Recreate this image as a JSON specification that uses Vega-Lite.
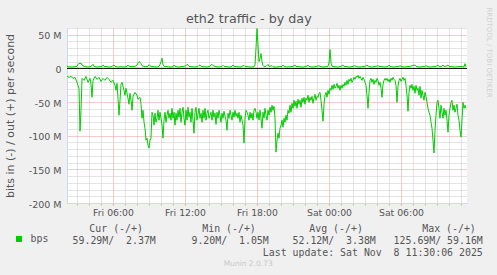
{
"$schema": "https://vega.github.io/schema/vega-lite/v6.json",
"autosize": "none",
"width": 400,
"height": 175,
"padding": {"left": 67, "top": 28, "right": 30, "bottom": 72},
"background": "#f0f0f0",
"config": {"view": {"fill": "white", "stroke": null}, "font": "DejaVu Sans"},
"title": {"text": "eth2 traffic - by day", "font": "DejaVu Sans", "fontSize": 12.7, "fontWeight": "normal", "color": "#555555", "anchor": "middle", "frame": "group", "offset": 4.5, "baseline": "alphabetic", "dx": -18.2, "dy": 33},
"datasets": {"series": [
{"s":"in","m":130,"v":-11.9},{"s":"in","m":140,"v":-13.3},{"s":"in","m":150,"v":-11.9},{"s":"in","m":160,"v":-14.8},{"s":"in","m":170,"v":-13.3},{"s":"in","m":180,"v":-20.7},{"s":"in","m":185,"v":-25.2},{"s":"in","m":190,"v":-29.6},{"s":"in","m":195,"v":-93.3},{"s":"in","m":200,"v":-62.2},{"s":"in","m":205,"v":-14.8},{"s":"in","m":215,"v":-17.8},{"s":"in","m":225,"v":-11.9},{"s":"in","m":235,"v":-20.7},{"s":"in","m":245,"v":-14.8},{"s":"in","m":250,"v":-23.7},{"s":"in","m":255,"v":-43.0},{"s":"in","m":260,"v":-17.8},{"s":"in","m":270,"v":-11.9},{"s":"in","m":280,"v":-16.3},{"s":"in","m":290,"v":-13.3},{"s":"in","m":300,"v":-19.3},{"s":"in","m":310,"v":-14.8},{"s":"in","m":320,"v":-17.8},{"s":"in","m":330,"v":-13.3},{"s":"in","m":340,"v":-16.3},{"s":"in","m":350,"v":-20.7},{"s":"in","m":360,"v":-17.8},{"s":"in","m":370,"v":-25.2},{"s":"in","m":375,"v":-32.6},{"s":"in","m":380,"v":-22.2},{"s":"in","m":385,"v":-44.4},{"s":"in","m":390,"v":-69.6},{"s":"in","m":395,"v":-47.4},{"s":"in","m":400,"v":-23.7},{"s":"in","m":405,"v":-20.7},{"s":"in","m":415,"v":-32.6},{"s":"in","m":420,"v":-40.0},{"s":"in","m":425,"v":-29.6},{"s":"in","m":435,"v":-44.4},{"s":"in","m":440,"v":-53.3},{"s":"in","m":445,"v":-37.0},{"s":"in","m":450,"v":-47.4},{"s":"in","m":455,"v":-62.2},{"s":"in","m":460,"v":-41.5},{"s":"in","m":470,"v":-35.6},{"s":"in","m":480,"v":-40.0},{"s":"in","m":485,"v":-45.9},{"s":"in","m":495,"v":-43.0},{"s":"in","m":500,"v":-53.3},{"s":"in","m":505,"v":-74.1},{"s":"in","m":510,"v":-62.2},{"s":"in","m":515,"v":-80.0},{"s":"in","m":520,"v":-88.9},{"s":"in","m":525,"v":-106.7},{"s":"in","m":530,"v":-103.7},{"s":"in","m":535,"v":-114.1},{"s":"in","m":540,"v":-118.5},{"s":"in","m":545,"v":-106.7},{"s":"in","m":550,"v":-103.7},{"s":"in","m":555,"v":-65.2},{"s":"in","m":560,"v":-69.6},{"s":"in","m":565,"v":-84.4},{"s":"in","m":570,"v":-66.7},{"s":"in","m":575,"v":-80.0},{"s":"in","m":580,"v":-74.1},{"s":"in","m":585,"v":-62.2},{"s":"in","m":590,"v":-77.0},{"s":"in","m":595,"v":-65.2},{"s":"in","m":600,"v":-74.1},{"s":"in","m":605,"v":-84.4},{"s":"in","m":610,"v":-103.7},{"s":"in","m":615,"v":-77.0},{"s":"in","m":620,"v":-65.2},{"s":"in","m":625,"v":-80.0},{"s":"in","m":630,"v":-69.6},{"s":"in","m":635,"v":-62.2},{"s":"in","m":640,"v":-74.1},{"s":"in","m":645,"v":-66.7},{"s":"in","m":650,"v":-77.0},{"s":"in","m":655,"v":-59.3},{"s":"in","m":660,"v":-74.1},{"s":"in","m":665,"v":-65.2},{"s":"in","m":670,"v":-84.4},{"s":"in","m":675,"v":-66.7},{"s":"in","m":680,"v":-77.0},{"s":"in","m":685,"v":-62.2},{"s":"in","m":690,"v":-72.6},{"s":"in","m":695,"v":-59.3},{"s":"in","m":700,"v":-80.0},{"s":"in","m":705,"v":-65.2},{"s":"in","m":710,"v":-57.8},{"s":"in","m":715,"v":-74.1},{"s":"in","m":720,"v":-84.4},{"s":"in","m":725,"v":-62.2},{"s":"in","m":730,"v":-77.0},{"s":"in","m":735,"v":-57.8},{"s":"in","m":740,"v":-72.6},{"s":"in","m":745,"v":-65.2},{"s":"in","m":750,"v":-80.0},{"s":"in","m":755,"v":-59.3},{"s":"in","m":760,"v":-77.0},{"s":"in","m":765,"v":-96.3},{"s":"in","m":770,"v":-65.2},{"s":"in","m":775,"v":-57.8},{"s":"in","m":780,"v":-77.0},{"s":"in","m":785,"v":-68.1},{"s":"in","m":790,"v":-59.3},{"s":"in","m":795,"v":-74.1},{"s":"in","m":800,"v":-66.7},{"s":"in","m":805,"v":-80.0},{"s":"in","m":810,"v":-62.2},{"s":"in","m":815,"v":-74.1},{"s":"in","m":820,"v":-59.3},{"s":"in","m":825,"v":-77.0},{"s":"in","m":830,"v":-66.7},{"s":"in","m":835,"v":-62.2},{"s":"in","m":840,"v":-74.1},{"s":"in","m":845,"v":-69.6},{"s":"in","m":850,"v":-65.2},{"s":"in","m":855,"v":-77.0},{"s":"in","m":860,"v":-62.2},{"s":"in","m":865,"v":-72.6},{"s":"in","m":870,"v":-66.7},{"s":"in","m":875,"v":-83.0},{"s":"in","m":880,"v":-65.2},{"s":"in","m":885,"v":-74.1},{"s":"in","m":890,"v":-62.2},{"s":"in","m":895,"v":-69.6},{"s":"in","m":900,"v":-80.0},{"s":"in","m":905,"v":-66.7},{"s":"in","m":910,"v":-74.1},{"s":"in","m":915,"v":-63.7},{"s":"in","m":920,"v":-71.1},{"s":"in","m":925,"v":-77.0},{"s":"in","m":930,"v":-91.9},{"s":"in","m":935,"v":-66.7},{"s":"in","m":940,"v":-74.1},{"s":"in","m":945,"v":-62.2},{"s":"in","m":950,"v":-69.6},{"s":"in","m":955,"v":-77.0},{"s":"in","m":960,"v":-65.2},{"s":"in","m":965,"v":-72.6},{"s":"in","m":970,"v":-62.2},{"s":"in","m":975,"v":-71.1},{"s":"in","m":980,"v":-66.7},{"s":"in","m":985,"v":-74.1},{"s":"in","m":990,"v":-65.2},{"s":"in","m":995,"v":-80.0},{"s":"in","m":1000,"v":-69.6},{"s":"in","m":1005,"v":-77.0},{"s":"in","m":1010,"v":-84.4},{"s":"in","m":1015,"v":-111.1},{"s":"in","m":1020,"v":-74.1},{"s":"in","m":1025,"v":-62.2},{"s":"in","m":1030,"v":-65.2},{"s":"in","m":1035,"v":-69.6},{"s":"in","m":1040,"v":-77.0},{"s":"in","m":1045,"v":-65.2},{"s":"in","m":1050,"v":-74.1},{"s":"in","m":1055,"v":-66.7},{"s":"in","m":1060,"v":-77.0},{"s":"in","m":1065,"v":-62.2},{"s":"in","m":1070,"v":-59.3},{"s":"in","m":1075,"v":-65.2},{"s":"in","m":1080,"v":-74.1},{"s":"in","m":1085,"v":-65.2},{"s":"in","m":1090,"v":-77.0},{"s":"in","m":1095,"v":-62.2},{"s":"in","m":1100,"v":-74.1},{"s":"in","m":1105,"v":-88.9},{"s":"in","m":1110,"v":-65.2},{"s":"in","m":1115,"v":-74.1},{"s":"in","m":1120,"v":-59.3},{"s":"in","m":1125,"v":-69.6},{"s":"in","m":1130,"v":-77.0},{"s":"in","m":1135,"v":-62.2},{"s":"in","m":1140,"v":-69.6},{"s":"in","m":1145,"v":-57.8},{"s":"in","m":1150,"v":-65.2},{"s":"in","m":1155,"v":-54.8},{"s":"in","m":1160,"v":-62.2},{"s":"in","m":1165,"v":-56.3},{"s":"in","m":1170,"v":-74.1},{"s":"in","m":1175,"v":-124.4},{"s":"in","m":1180,"v":-106.7},{"s":"in","m":1185,"v":-96.3},{"s":"in","m":1190,"v":-103.7},{"s":"in","m":1195,"v":-88.9},{"s":"in","m":1200,"v":-84.4},{"s":"in","m":1205,"v":-77.0},{"s":"in","m":1210,"v":-87.4},{"s":"in","m":1215,"v":-74.1},{"s":"in","m":1220,"v":-80.0},{"s":"in","m":1225,"v":-69.6},{"s":"in","m":1230,"v":-77.0},{"s":"in","m":1235,"v":-62.2},{"s":"in","m":1240,"v":-66.7},{"s":"in","m":1245,"v":-54.8},{"s":"in","m":1250,"v":-65.2},{"s":"in","m":1255,"v":-51.9},{"s":"in","m":1260,"v":-59.3},{"s":"in","m":1265,"v":-47.4},{"s":"in","m":1270,"v":-56.3},{"s":"in","m":1275,"v":-48.9},{"s":"in","m":1280,"v":-59.3},{"s":"in","m":1285,"v":-45.9},{"s":"in","m":1290,"v":-53.3},{"s":"in","m":1295,"v":-47.4},{"s":"in","m":1300,"v":-57.8},{"s":"in","m":1305,"v":-44.4},{"s":"in","m":1310,"v":-50.4},{"s":"in","m":1315,"v":-43.0},{"s":"in","m":1320,"v":-53.3},{"s":"in","m":1325,"v":-44.4},{"s":"in","m":1330,"v":-47.4},{"s":"in","m":1335,"v":-40.0},{"s":"in","m":1340,"v":-50.4},{"s":"in","m":1345,"v":-43.0},{"s":"in","m":1350,"v":-47.4},{"s":"in","m":1355,"v":-41.5},{"s":"in","m":1360,"v":-51.9},{"s":"in","m":1365,"v":-44.4},{"s":"in","m":1370,"v":-38.5},{"s":"in","m":1375,"v":-47.4},{"s":"in","m":1380,"v":-41.5},{"s":"in","m":1385,"v":-43.0},{"s":"in","m":1390,"v":-37.0},{"s":"in","m":1395,"v":-35.6},{"s":"in","m":1400,"v":-47.4},{"s":"in","m":1405,"v":-62.2},{"s":"in","m":1410,"v":-78.5},{"s":"in","m":1415,"v":-53.3},{"s":"in","m":1420,"v":-40.0},{"s":"in","m":1425,"v":-35.6},{"s":"in","m":1430,"v":-43.0},{"s":"in","m":1435,"v":-32.6},{"s":"in","m":1440,"v":-38.5},{"s":"in","m":1445,"v":-29.6},{"s":"in","m":1450,"v":-32.6},{"s":"in","m":1455,"v":-25.2},{"s":"in","m":1460,"v":-31.1},{"s":"in","m":1465,"v":-23.7},{"s":"in","m":1470,"v":-29.6},{"s":"in","m":1475,"v":-26.7},{"s":"in","m":1480,"v":-22.2},{"s":"in","m":1485,"v":-29.6},{"s":"in","m":1490,"v":-25.2},{"s":"in","m":1495,"v":-32.6},{"s":"in","m":1500,"v":-25.2},{"s":"in","m":1505,"v":-29.6},{"s":"in","m":1510,"v":-23.7},{"s":"in","m":1515,"v":-26.7},{"s":"in","m":1520,"v":-20.7},{"s":"in","m":1525,"v":-25.2},{"s":"in","m":1530,"v":-17.8},{"s":"in","m":1535,"v":-23.7},{"s":"in","m":1540,"v":-16.3},{"s":"in","m":1545,"v":-19.3},{"s":"in","m":1550,"v":-14.8},{"s":"in","m":1555,"v":-20.7},{"s":"in","m":1560,"v":-17.8},{"s":"in","m":1565,"v":-13.3},{"s":"in","m":1570,"v":-16.3},{"s":"in","m":1575,"v":-11.9},{"s":"in","m":1580,"v":-13.3},{"s":"in","m":1585,"v":-10.4},{"s":"in","m":1590,"v":-14.8},{"s":"in","m":1595,"v":-11.9},{"s":"in","m":1600,"v":-14.8},{"s":"in","m":1605,"v":-17.8},{"s":"in","m":1610,"v":-13.3},{"s":"in","m":1615,"v":-16.3},{"s":"in","m":1620,"v":-20.7},{"s":"in","m":1625,"v":-25.2},{"s":"in","m":1630,"v":-40.0},{"s":"in","m":1635,"v":-59.3},{"s":"in","m":1640,"v":-35.6},{"s":"in","m":1645,"v":-17.8},{"s":"in","m":1650,"v":-14.8},{"s":"in","m":1655,"v":-20.7},{"s":"in","m":1660,"v":-16.3},{"s":"in","m":1665,"v":-23.7},{"s":"in","m":1670,"v":-17.8},{"s":"in","m":1675,"v":-20.7},{"s":"in","m":1680,"v":-14.8},{"s":"in","m":1685,"v":-17.8},{"s":"in","m":1690,"v":-25.2},{"s":"in","m":1695,"v":-20.7},{"s":"in","m":1700,"v":-29.6},{"s":"in","m":1705,"v":-43.0},{"s":"in","m":1710,"v":-23.7},{"s":"in","m":1715,"v":-17.8},{"s":"in","m":1720,"v":-14.8},{"s":"in","m":1725,"v":-17.8},{"s":"in","m":1730,"v":-14.8},{"s":"in","m":1735,"v":-19.3},{"s":"in","m":1740,"v":-16.3},{"s":"in","m":1745,"v":-20.7},{"s":"in","m":1750,"v":-14.8},{"s":"in","m":1755,"v":-17.8},{"s":"in","m":1760,"v":-13.3},{"s":"in","m":1765,"v":-16.3},{"s":"in","m":1770,"v":-17.8},{"s":"in","m":1775,"v":-25.2},{"s":"in","m":1780,"v":-50.4},{"s":"in","m":1785,"v":-26.7},{"s":"in","m":1790,"v":-17.8},{"s":"in","m":1795,"v":-14.8},{"s":"in","m":1800,"v":-19.3},{"s":"in","m":1805,"v":-16.3},{"s":"in","m":1810,"v":-13.3},{"s":"in","m":1815,"v":-17.8},{"s":"in","m":1820,"v":-14.8},{"s":"in","m":1825,"v":-25.2},{"s":"in","m":1830,"v":-40.0},{"s":"in","m":1835,"v":-63.7},{"s":"in","m":1840,"v":-35.6},{"s":"in","m":1845,"v":-25.2},{"s":"in","m":1850,"v":-29.6},{"s":"in","m":1855,"v":-23.7},{"s":"in","m":1860,"v":-32.6},{"s":"in","m":1865,"v":-26.7},{"s":"in","m":1870,"v":-37.0},{"s":"in","m":1875,"v":-25.2},{"s":"in","m":1880,"v":-32.6},{"s":"in","m":1885,"v":-29.6},{"s":"in","m":1890,"v":-40.0},{"s":"in","m":1895,"v":-26.7},{"s":"in","m":1900,"v":-44.4},{"s":"in","m":1905,"v":-32.6},{"s":"in","m":1910,"v":-40.0},{"s":"in","m":1915,"v":-47.4},{"s":"in","m":1920,"v":-35.6},{"s":"in","m":1925,"v":-41.5},{"s":"in","m":1930,"v":-50.4},{"s":"in","m":1935,"v":-59.3},{"s":"in","m":1940,"v":-65.2},{"s":"in","m":1945,"v":-69.6},{"s":"in","m":1950,"v":-80.0},{"s":"in","m":1955,"v":-88.9},{"s":"in","m":1960,"v":-106.7},{"s":"in","m":1965,"v":-125.69},{"s":"in","m":1970,"v":-91.9},{"s":"in","m":1975,"v":-69.6},{"s":"in","m":1980,"v":-50.4},{"s":"in","m":1985,"v":-47.4},{"s":"in","m":1990,"v":-59.3},{"s":"in","m":1995,"v":-74.1},{"s":"in","m":2000,"v":-54.8},{"s":"in","m":2005,"v":-65.2},{"s":"in","m":2010,"v":-74.1},{"s":"in","m":2015,"v":-59.3},{"s":"in","m":2020,"v":-69.6},{"s":"in","m":2025,"v":-62.2},{"s":"in","m":2030,"v":-77.0},{"s":"in","m":2035,"v":-94.8},{"s":"in","m":2040,"v":-69.6},{"s":"in","m":2045,"v":-59.3},{"s":"in","m":2050,"v":-50.4},{"s":"in","m":2055,"v":-47.4},{"s":"in","m":2060,"v":-62.2},{"s":"in","m":2065,"v":-54.8},{"s":"in","m":2070,"v":-65.2},{"s":"in","m":2075,"v":-59.3},{"s":"in","m":2080,"v":-53.3},{"s":"in","m":2085,"v":-69.6},{"s":"in","m":2090,"v":-77.0},{"s":"in","m":2095,"v":-91.9},{"s":"in","m":2100,"v":-102.2},{"s":"in","m":2105,"v":-77.0},{"s":"in","m":2110,"v":-50.4},{"s":"in","m":2115,"v":-59.3},{"s":"in","m":2120,"v":-54.8},{"s":"in","m":2125,"v":-59.29},
{"s":"out","m":130,"v":4},{"s":"out","m":135,"v":2},{"s":"out","m":145,"v":2.5},{"s":"out","m":155,"v":2},{"s":"out","m":170,"v":2.5},{"s":"out","m":180,"v":3},{"s":"out","m":185,"v":6},{"s":"out","m":190,"v":7.5},{"s":"out","m":195,"v":7},{"s":"out","m":200,"v":8},{"s":"out","m":205,"v":5},{"s":"out","m":215,"v":3},{"s":"out","m":225,"v":2.5},{"s":"out","m":235,"v":2},{"s":"out","m":245,"v":2.5},{"s":"out","m":255,"v":4},{"s":"out","m":260,"v":6},{"s":"out","m":265,"v":3},{"s":"out","m":280,"v":2},{"s":"out","m":295,"v":2.5},{"s":"out","m":305,"v":3},{"s":"out","m":310,"v":5},{"s":"out","m":315,"v":3},{"s":"out","m":330,"v":2.5},{"s":"out","m":345,"v":2},{"s":"out","m":355,"v":3},{"s":"out","m":360,"v":4},{"s":"out","m":365,"v":5},{"s":"out","m":370,"v":3},{"s":"out","m":385,"v":2},{"s":"out","m":400,"v":2.5},{"s":"out","m":415,"v":2},{"s":"out","m":430,"v":3},{"s":"out","m":435,"v":5},{"s":"out","m":440,"v":3},{"s":"out","m":455,"v":2.5},{"s":"out","m":470,"v":3},{"s":"out","m":480,"v":5},{"s":"out","m":485,"v":8},{"s":"out","m":490,"v":10},{"s":"out","m":495,"v":9},{"s":"out","m":500,"v":7},{"s":"out","m":505,"v":4},{"s":"out","m":520,"v":2.5},{"s":"out","m":535,"v":3},{"s":"out","m":540,"v":5.5},{"s":"out","m":545,"v":4},{"s":"out","m":550,"v":3},{"s":"out","m":565,"v":2.5},{"s":"out","m":580,"v":2},{"s":"out","m":590,"v":3},{"s":"out","m":595,"v":6},{"s":"out","m":600,"v":10},{"s":"out","m":605,"v":15},{"s":"out","m":610,"v":6},{"s":"out","m":615,"v":3},{"s":"out","m":630,"v":2.5},{"s":"out","m":645,"v":2},{"s":"out","m":660,"v":2.5},{"s":"out","m":665,"v":5},{"s":"out","m":670,"v":3},{"s":"out","m":685,"v":2},{"s":"out","m":700,"v":2.5},{"s":"out","m":715,"v":3},{"s":"out","m":725,"v":4},{"s":"out","m":730,"v":6},{"s":"out","m":735,"v":5},{"s":"out","m":740,"v":3},{"s":"out","m":755,"v":2.5},{"s":"out","m":770,"v":2},{"s":"out","m":785,"v":3},{"s":"out","m":790,"v":4.5},{"s":"out","m":795,"v":5},{"s":"out","m":800,"v":3},{"s":"out","m":815,"v":2.5},{"s":"out","m":830,"v":2},{"s":"out","m":845,"v":3},{"s":"out","m":850,"v":5},{"s":"out","m":855,"v":6},{"s":"out","m":860,"v":4},{"s":"out","m":875,"v":2.5},{"s":"out","m":890,"v":2},{"s":"out","m":905,"v":3},{"s":"out","m":910,"v":4.5},{"s":"out","m":915,"v":3},{"s":"out","m":930,"v":2.5},{"s":"out","m":945,"v":2},{"s":"out","m":955,"v":3},{"s":"out","m":960,"v":5},{"s":"out","m":965,"v":3},{"s":"out","m":980,"v":2.5},{"s":"out","m":995,"v":2},{"s":"out","m":1005,"v":3},{"s":"out","m":1015,"v":4.5},{"s":"out","m":1020,"v":3},{"s":"out","m":1035,"v":2.5},{"s":"out","m":1050,"v":2},{"s":"out","m":1065,"v":2.5},{"s":"out","m":1070,"v":5},{"s":"out","m":1075,"v":30},{"s":"out","m":1080,"v":59.16},{"s":"out","m":1085,"v":35},{"s":"out","m":1090,"v":10},{"s":"out","m":1095,"v":15},{"s":"out","m":1100,"v":22},{"s":"out","m":1105,"v":10},{"s":"out","m":1110,"v":4},{"s":"out","m":1115,"v":2.5},{"s":"out","m":1125,"v":3},{"s":"out","m":1135,"v":6},{"s":"out","m":1140,"v":3},{"s":"out","m":1155,"v":4},{"s":"out","m":1160,"v":2.5},{"s":"out","m":1175,"v":2},{"s":"out","m":1190,"v":2.5},{"s":"out","m":1205,"v":3},{"s":"out","m":1210,"v":5},{"s":"out","m":1215,"v":3},{"s":"out","m":1230,"v":2},{"s":"out","m":1245,"v":2.5},{"s":"out","m":1260,"v":3},{"s":"out","m":1265,"v":4},{"s":"out","m":1270,"v":5},{"s":"out","m":1275,"v":3},{"s":"out","m":1290,"v":2.5},{"s":"out","m":1305,"v":2},{"s":"out","m":1320,"v":2.5},{"s":"out","m":1330,"v":3.5},{"s":"out","m":1335,"v":5},{"s":"out","m":1340,"v":3},{"s":"out","m":1355,"v":2},{"s":"out","m":1370,"v":2.5},{"s":"out","m":1385,"v":3.5},{"s":"out","m":1390,"v":4},{"s":"out","m":1395,"v":3},{"s":"out","m":1410,"v":2},{"s":"out","m":1425,"v":2.5},{"s":"out","m":1435,"v":3},{"s":"out","m":1440,"v":8},{"s":"out","m":1445,"v":28},{"s":"out","m":1450,"v":8},{"s":"out","m":1455,"v":3},{"s":"out","m":1470,"v":2.5},{"s":"out","m":1485,"v":2},{"s":"out","m":1500,"v":3},{"s":"out","m":1510,"v":5},{"s":"out","m":1515,"v":3},{"s":"out","m":1530,"v":2.5},{"s":"out","m":1545,"v":2},{"s":"out","m":1560,"v":3},{"s":"out","m":1570,"v":4},{"s":"out","m":1575,"v":3},{"s":"out","m":1590,"v":2},{"s":"out","m":1605,"v":2.5},{"s":"out","m":1620,"v":3},{"s":"out","m":1630,"v":5},{"s":"out","m":1635,"v":3.5},{"s":"out","m":1650,"v":2},{"s":"out","m":1665,"v":2.5},{"s":"out","m":1680,"v":3.5},{"s":"out","m":1685,"v":4},{"s":"out","m":1690,"v":3},{"s":"out","m":1705,"v":2.5},{"s":"out","m":1720,"v":2},{"s":"out","m":1735,"v":3},{"s":"out","m":1740,"v":5},{"s":"out","m":1745,"v":3},{"s":"out","m":1760,"v":2},{"s":"out","m":1775,"v":2.5},{"s":"out","m":1790,"v":3},{"s":"out","m":1795,"v":4},{"s":"out","m":1800,"v":3},{"s":"out","m":1815,"v":2},{"s":"out","m":1830,"v":2.5},{"s":"out","m":1845,"v":3},{"s":"out","m":1870,"v":5},{"s":"out","m":1875,"v":3},{"s":"out","m":1890,"v":2},{"s":"out","m":1905,"v":2.5},{"s":"out","m":1920,"v":3},{"s":"out","m":1925,"v":4},{"s":"out","m":1930,"v":3},{"s":"out","m":1945,"v":2},{"s":"out","m":1960,"v":2.5},{"s":"out","m":1975,"v":3},{"s":"out","m":1985,"v":5},{"s":"out","m":1990,"v":3},{"s":"out","m":2000,"v":2.5},{"s":"out","m":2010,"v":5},{"s":"out","m":2015,"v":3},{"s":"out","m":2025,"v":3},{"s":"out","m":2035,"v":5},{"s":"out","m":2040,"v":3},{"s":"out","m":2055,"v":2.5},{"s":"out","m":2070,"v":2},{"s":"out","m":2085,"v":2.5},{"s":"out","m":2100,"v":3},{"s":"out","m":2115,"v":2},{"s":"out","m":2120,"v":7},{"s":"out","m":2125,"v":2.37}
]},
"data": {"name": "series"},
"layer": [
{
"data": {"values": [{}]},
"mark": {"type": "rule", "color": "#000000", "strokeWidth": 1},
"encoding": {"y": {"datum": 0, "type": "quantitative", "axis": null}}
},
{
"mark": {"type": "line", "strokeWidth": 1, "clip": true},
"encoding": {
"x": {"field": "m", "type": "quantitative", "scale": {"domain": [130, 2130], "nice": false, "zero": false},
"axis": {"orient": "bottom",
"values": [180,240,300,360,420,480,540,600,660,720,780,840,900,960,1020,1080,1140,1200,1260,1320,1380,1440,1500,1560,1620,1680,1740,1800,1860,1920,1980,2040,2100],
"labelExpr": "datum.value == 360 ? 'Fri 06:00' : datum.value == 720 ? 'Fri 12:00' : datum.value == 1080 ? 'Fri 18:00' : datum.value == 1440 ? 'Sat 00:00' : datum.value == 1800 ? 'Sat 06:00' : ''",
"labelFont": "DejaVu Sans", "labelFontSize": 9.3, "labelColor": "#555555", "labelPadding": 3, "labelFlush": false, "labelOverlap": false, "labelBound": false,
"ticks": true, "tickSize": 2, "tickColor": {"condition": {"test": "datum.value % 360 === 0", "value": "#eb9595"}, "value": "#bbbbbb"},
"domainColor": "#cfd6f8", "domainWidth": 1,
"grid": true, "gridColor": {"condition": {"test": "datum.value % 360 === 0", "value": "#eb9595"}, "value": "#c8c8c8"}, "gridDash": [1, 1], "gridWidth": 1,
"title": ["Cur (-/+)\u00a0\u00a0\u00a0\u00a0\u00a0\u00a0\u00a0\u00a0\u00a0\u00a0Min (-/+)\u00a0\u00a0\u00a0\u00a0\u00a0\u00a0\u00a0\u00a0\u00a0Avg (-/+)\u00a0\u00a0\u00a0\u00a0\u00a0\u00a0\u00a0\u00a0\u00a0\u00a0Max (-/+)\u2800", "59.29M/\u00a0\u00a02.37M\u00a0\u00a0\u00a0\u00a0\u00a0\u00a09.20M/\u00a0\u00a01.05M\u00a0\u00a0\u00a0\u00a052.12M/\u00a0\u00a03.38M\u00a0\u00a0\u00a0125.69M/\u00a059.16M", "Last update: Sat Nov\u00a0\u00a08 11:30:06 2025"],
"titleFont": "DejaVu Sans Mono", "titleFontSize": 9.9, "titleFontWeight": "normal", "titleColor": "#555555", "titleAlign": "right", "titleAnchor": "end", "titleBaseline": "alphabetic", "titleX": 415.3, "titleY": 28, "titleLineHeight": 12, "titleAngle": 0}},
"y": {"field": "v", "type": "quantitative", "scale": {"domain": [-200, 60], "nice": false, "zero": false},
"axis": {"orient": "left",
"values": [-200,-190,-180,-170,-160,-150,-140,-130,-120,-110,-100,-90,-80,-70,-60,-50,-40,-30,-20,-10,0,10,20,30,40,50,60],
"labelExpr": "datum.value % 50 == 0 ? (datum.value == 0 ? '0' : datum.value + ' M') : ''",
"labelFont": "DejaVu Sans", "labelFontSize": 9.5, "labelColor": "#555555", "labelPadding": 6, "labelOffset": 1, "labelFlush": false, "labelOverlap": false, "labelBound": false,
"ticks": false, "tickSize": 0,
"domainColor": "#cfd6f8", "domainWidth": 1,
"grid": true, "gridColor": {"condition": {"test": "datum.value % 50 === 0", "value": "#eb9595"}, "value": "#c8c8c8"}, "gridDash": [1, 1], "gridWidth": 1,
"title": "bits in (-) / out (+) per second", "titleFont": "DejaVu Sans", "titleFontSize": 11, "titleFontWeight": "normal", "titleColor": "#555555", "titleAngle": 270, "titleAlign": "center", "titleBaseline": "middle", "titleX": -56.3, "titleY": 87.5}},
"detail": {"field": "s"},
"color": {"datum": "bps", "scale": {"range": ["#00cc00"]},
"legend": {"orient": "none", "legendX": -53, "legendY": 206, "title": null, "symbolType": "square", "symbolSize": 36, "symbolFillColor": "#00cc00", "symbolStrokeColor": "#00cc00", "symbolStrokeWidth": 0, "symbolOpacity": 1, "labelFont": "DejaVu Sans Mono", "labelFontSize": 9.9, "labelColor": "#555555", "labelOffset": 6.7, "padding": 0, "rowPadding": 0}}
}
},
{
"mark": {"type": "line", "opacity": 0},
"encoding": {
"x": {"field": "m", "type": "quantitative",
"axis": {"orient": "top", "labels": false, "ticks": false, "domain": false, "grid": false, "title": "Munin 2.0.73", "titleFont": "DejaVu Sans", "titleFontSize": 7.5, "titleFontWeight": "normal", "titleColor": "#c8c8c8", "titleAlign": "center", "titleBaseline": "middle", "titleX": 180.7, "titleY": 235.3, "titleAngle": 0}},
"y": {"field": "v", "type": "quantitative",
"axis": {"orient": "right", "labels": false, "ticks": false, "domain": false, "grid": false, "title": "RRDTOOL / TOBI OETIKER", "titleFont": "DejaVu Sans", "titleFontSize": 7, "titleFontWeight": "normal", "titleColor": "#d0d0d0", "titleAngle": 90, "titleAlign": "center", "titleBaseline": "middle", "titleX": 21, "titleY": 24}},
"detail": {"field": "s"}
}
}
],
"resolve": {"axis": {"x": "independent", "y": "independent"}}
}
